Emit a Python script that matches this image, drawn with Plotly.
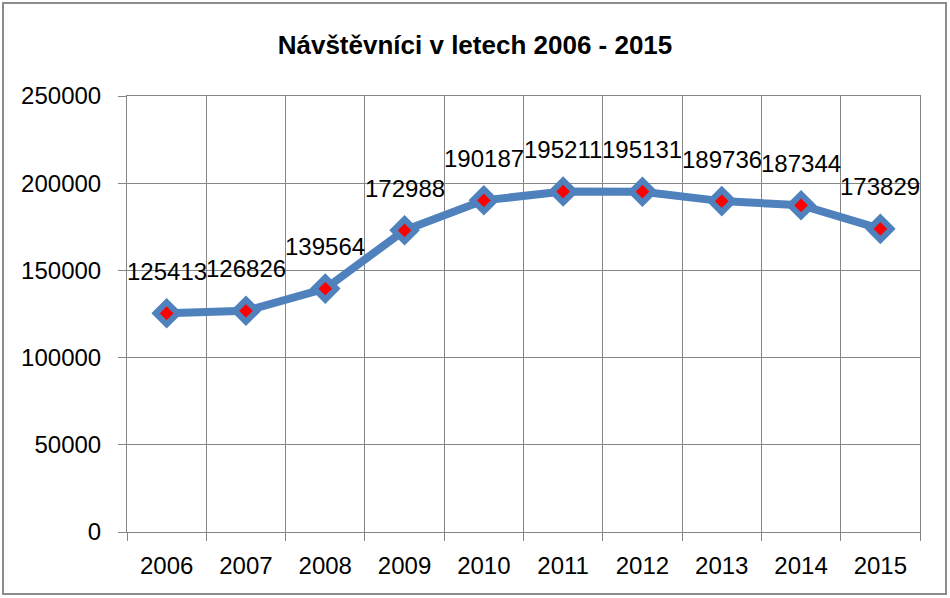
import plotly.graph_objects as go

years = ["2006", "2007", "2008", "2009", "2010", "2011", "2012", "2013", "2014", "2015"]
visitors = [125413, 126826, 139564, 172988, 190187, 195211, 195131, 189736, 187344, 173829]
title_text = "Návštěvníci v letech 2006 - 2015"
y_ticks = [0, 50000, 100000, 150000, 200000, 250000]

FONT = "Liberation Sans"
GRID = "#868686"
BLUE = "#4F81BD"

fig = go.Figure()
fig.add_trace(go.Scatter(
    x=years, y=visitors, mode="lines+markers",
    line=dict(color=BLUE, width=8),
    marker=dict(symbol="diamond", size=17, color="#FF0000",
                line=dict(color=BLUE, width=6)),
    showlegend=False, hoverinfo="x+y",
))

for i, v in enumerate(visitors):
    fig.add_annotation(x=i, y=v, text=str(v), showarrow=False, yshift=42,
                       font=dict(family=FONT, size=24, color="#000000"))

L, R, T, B = 127, 30, 96, 66
W, H = 950, 598
pw, ph = W - L - R, H - T - B

fig.update_layout(
    width=W, height=H,
    margin=dict(l=L, r=R, t=T, b=B),
    paper_bgcolor="white", plot_bgcolor="white",
    title=dict(text="<b>" + title_text + "</b>", x=0.5, xanchor="center",
               y=1 - 45 / H, yanchor="middle",
               font=dict(family=FONT, size=26, color="#000000")),
    xaxis=dict(type="category", tickson="boundaries", showgrid=True,
               gridcolor=GRID, gridwidth=1, showline=True, linecolor=GRID,
               linewidth=1, mirror=True, ticks="outside", ticklen=8,
               tickcolor=GRID, ticklabelstandoff=12,
               tickfont=dict(family=FONT, size=24, color="#000"),
               range=[-0.5, 9.5]),
    yaxis=dict(range=[0, 250000], tickvals=y_ticks, ticktext=[str(t) for t in y_ticks],
               showgrid=True, gridcolor=GRID, gridwidth=1, showline=True,
               linecolor=GRID, linewidth=1, mirror=True, ticks="outside",
               ticklen=8, tickcolor=GRID, zeroline=False,
               ticklabelstandoff=12,
               tickfont=dict(family=FONT, size=24, color="#000")),
)

# outer chart frame
fig.add_shape(type="rect", xref="paper", yref="paper",
              x0=(3 - L) / pw, x1=(946 - L) / pw,
              y0=(T + ph - 594) / ph, y1=(T + ph - 3) / ph,
              line=dict(color="#8C8C8C", width=2), fillcolor="rgba(0,0,0,0)",
              layer="below")

fig.write_html("out.html", config={"displayModeBar": False},
               post_script="document.body.style.margin='0';document.body.style.overflow='hidden';")
